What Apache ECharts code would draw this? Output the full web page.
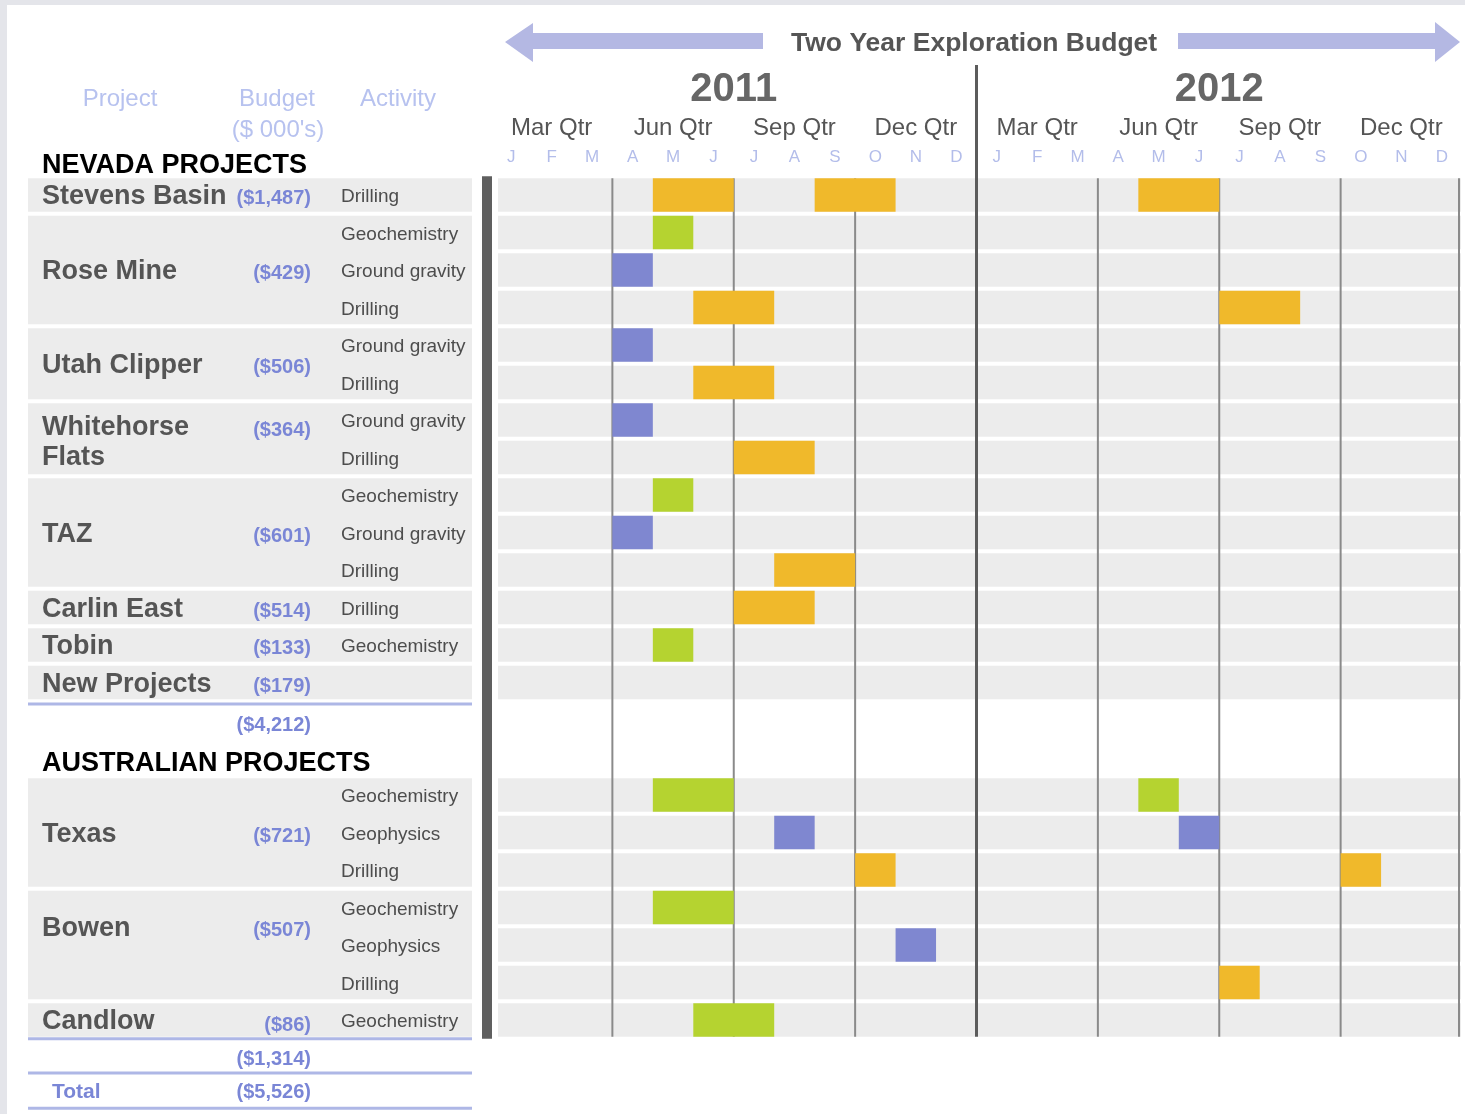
<!DOCTYPE html>
<html>
<head>
<meta charset="utf-8">
<title>Two Year Exploration Budget</title>
<script src="https://cdn.jsdelivr.net/npm/echarts@6/dist/echarts.min.js"></script>
<style>
  html, body { margin: 0; padding: 0; background: #fff; }
  #chart { width: 1465px; height: 1114px; }
</style>
</head>
<body>
<div id="chart"></div>
<script>
// top header axes
var months = ['J','F','M','A','M','J','J','A','S','O','N','D','J','F','M','A','M','J','J','A','S','O','N','D'];
var quarters = ['Mar Qtr','Jun Qtr','Sep Qtr','Dec Qtr','Mar Qtr','Jun Qtr','Sep Qtr','Dec Qtr'];
var years = ['2011','2012'];

// one activity per table row (row index = y value), '' = no activity
var activities = ['Drilling','Geochemistry','Ground gravity','Drilling','Ground gravity','Drilling',
  'Ground gravity','Drilling','Geochemistry','Ground gravity','Drilling','Drilling','Geochemistry','',
  '','','Geochemistry','Geophysics','Drilling','Geochemistry','Geophysics','Drilling','Geochemistry'];
// rows that get a grey band (14,15 are the subtotal / heading gap)
var bandRows = [0,1,2,3,4,5,6,7,8,9,10,11,12,13,16,17,18,19,20,21,22];

// projects
var projectNames = ['Stevens Basin','Rose Mine','Utah Clipper','Whitehorse\nFlats','TAZ','Carlin East','Tobin','New Projects','Texas','Bowen','Candlow'];
var projectBudgets = ['($1,487)','($429)','($506)','($364)','($601)','($514)','($133)','($179)','($721)','($507)','($86)'];
var projectFirstRow = [0,1,4,6,8,11,12,13,16,19,22];
var projectLastRow = [0,3,5,7,10,11,12,13,18,21,22];
var projectLabelRow = [0,2,4.5,6.55,9,11,12,13,17,19.5,22];
var projectBudgetRow = [0.05,2.05,4.55,6.22,9.05,11.05,12.05,13.05,17.05,19.55,22.08];

// scheduled activities: row, start month, end month (0 = start of Jan 2011)
var taskRow   = [0, 0, 0, 1, 2, 3, 3, 4, 5, 6, 7, 8, 9, 10, 11, 12, 16, 16, 17, 17, 18, 18, 19, 20, 21, 22];
var taskStart = [4, 8, 16, 4, 3, 5, 18, 3, 5, 3, 6, 4, 3, 7, 6, 4, 4, 16, 7, 17, 9, 21, 4, 10, 18, 5];
var taskEnd   = [6, 10, 18, 5, 4, 7, 20, 4, 7, 4, 8, 5, 4, 9, 8, 5, 6, 17, 8, 18, 10, 22, 6, 11, 19, 7];

// quarter divider positions (months)
var quarterLines = [3, 6, 9, 12, 15, 18, 21, 24];

// section headings and totals
var sectionNames = ['NEVADA PROJECTS', 'AUSTRALIAN PROJECTS'];
var sectionRows = [-0.85, 15.12];
var totalLabels = ['', '', 'Total'];
var totalValues = ['($4,212)', '($1,314)', '($5,526)'];
var totalRows = [14.1, 23.0, 23.87];
var ruleRows = [13.57, 22.5, 23.41, 24.35];

var FONT = '"Liberation Sans", Arial, Helvetica, sans-serif';
var BAND_H = 33.5;
var TXT_DY = 2; // text sits a little below the row centre
var activityColor = {
  'Drilling': '#f0b92b',
  'Geochemistry': '#b5d330',
  'Ground gravity': '#7f87d0',
  'Geophysics': '#7f87d0'
};
var budgetBlue = '#7a86d6';

var chart = echarts.init(document.getElementById('chart'));

function headAxis(data, offset, margin, size, weight, color) {
  return {
    type: 'category', data: data, position: 'top', offset: offset,
    axisLine: { show: false, onZero: false }, axisTick: { show: false }, splitLine: { show: false },
    axisLabel: { interval: 0, margin: margin, fontSize: size, fontWeight: weight, color: color, fontFamily: FONT }
  };
}

function rowY(api, r) {
  return api.coord([0, r])[1];
}

var option = {
  backgroundColor: '#ffffff',
  animation: false,
  textStyle: { fontFamily: FONT },
  title: {
    text: 'Two Year Exploration Budget', left: 786, top: 25,
    textStyle: { fontSize: 26.5, fontWeight: 'bold', color: '#555555', fontFamily: FONT }
  },
  grid: { left: 491, right: 3, top: 176.25, height: 862.5 },
  xAxis: [
    { type: 'value', min: 0, max: 24, show: false },
    headAxis(months, 0, 10, 17, 'normal', '#b3bdea'),
    headAxis(quarters, 36, 0, 24, 'normal', '#555555'),
    headAxis(years, 66, 0, 40, 'bold', '#666666')
  ],
  yAxis: {
    type: 'value', min: -0.5, max: 22.5, inverse: true, offset: 4,
    axisLine: { show: true, onZero: false, lineStyle: { color: '#5f5f5f', width: 10, cap: 'butt' } },
    axisTick: { show: false }, axisLabel: { show: false }, splitLine: { show: false }
  },
  graphic: [
    { type: 'rect', shape: { x: 0, y: 0, width: 1465, height: 5 }, style: { fill: '#e4e5ea' } },
    { type: 'rect', shape: { x: 0, y: 0, width: 7, height: 1114 }, style: { fill: '#e4e5ea' } },
    { type: 'polygon', shape: { points: [[505, 42], [533, 23], [533, 33], [763, 33], [763, 49], [533, 49], [533, 62]] }, style: { fill: '#b4b8e3' } },
    { type: 'polygon', shape: { points: [[1460, 42], [1435, 22], [1435, 33], [1178, 33], [1178, 49], [1435, 49], [1435, 62]] }, style: { fill: '#b4b8e3' } },
    { type: 'text', x: 120, y: 99, style: { text: 'Project', fill: '#b7c2ef', fontSize: 24, fontFamily: FONT, align: 'center', verticalAlign: 'middle' } },
    { type: 'text', x: 277, y: 99, style: { text: 'Budget', fill: '#b7c2ef', fontSize: 24, fontFamily: FONT, align: 'center', verticalAlign: 'middle' } },
    { type: 'text', x: 278, y: 130, style: { text: "($ 000's)", fill: '#b7c2ef', fontSize: 24, fontFamily: FONT, align: 'center', verticalAlign: 'middle' } },
    { type: 'text', x: 398, y: 99, style: { text: 'Activity', fill: '#b7c2ef', fontSize: 24, fontFamily: FONT, align: 'center', verticalAlign: 'middle' } }
  ],
  series: [
    {
      // project blocks in the table
      type: 'custom', name: 'projects', z: 1, silent: true,
      data: projectNames.map(function (n, i) { return [0, projectLabelRow[i]]; }),
      encode: { x: 0, y: 1 },
      renderItem: function (params, api) {
        var i = params.dataIndex;
        var top = rowY(api, projectFirstRow[i]) - BAND_H / 2;
        var bot = rowY(api, projectLastRow[i]) + BAND_H / 2;
        var yName = rowY(api, projectLabelRow[i]) + TXT_DY;
        var yBud = rowY(api, projectBudgetRow[i]) + TXT_DY;
        return {
          type: 'group',
          children: [
            { type: 'rect', shape: { x: 28, y: top, width: 444, height: bot - top }, style: { fill: '#ececec' } },
            { type: 'text', x: 42, y: yName, style: { text: projectNames[i], fill: '#555555', fontSize: 27, fontWeight: 'bold', fontFamily: FONT, lineHeight: 30, verticalAlign: 'middle' } },
            { type: 'text', x: 311, y: yBud, style: { text: projectBudgets[i], fill: budgetBlue, fontSize: 20, fontWeight: 'bold', fontFamily: FONT, align: 'right', verticalAlign: 'middle' } }
          ]
        };
      }
    },
    {
      // grey band per row in the timeline
      type: 'custom', name: 'rows', z: 1, silent: true,
      data: bandRows.map(function (r) { return [0, r]; }),
      encode: { x: 0, y: 1 },
      renderItem: function (params, api) {
        var r = api.value(1);
        var p = api.coord([0, r]);
        var x0 = p[0] + 7;
        var x1 = api.coord([24, r])[0] - 1;
        return { type: 'rect', shape: { x: x0, y: p[1] - BAND_H / 2, width: x1 - x0, height: BAND_H }, style: { fill: '#ececec' } };
      }
    },
    {
      // activity names in the table
      type: 'custom', name: 'activities', z: 2, silent: true,
      data: bandRows.map(function (r) { return [0, r]; }),
      encode: { x: 0, y: 1 },
      renderItem: function (params, api) {
        var r = api.value(1);
        return { type: 'text', x: 341, y: rowY(api, r) + TXT_DY, style: { text: activities[r], fill: '#4d4d4d', fontSize: 19, fontFamily: FONT, verticalAlign: 'middle' } };
      }
    },
    {
      // quarter dividers
      type: 'custom', name: 'quarters', z: 2, silent: true,
      data: quarterLines.map(function (q) { return [q, 0]; }),
      encode: { x: 0, y: 1 },
      renderItem: function (params, api) {
        var q = api.value(0);
        var x = api.coord([q, 0])[0];
        var top = rowY(api, 0) - BAND_H / 2;
        var bot = rowY(api, 22) + BAND_H / 2;
        var mid = q === 12;
        if (q === 24) x -= 3;
        return {
          type: 'line',
          shape: { x1: x, y1: mid ? 65 : top, x2: x, y2: bot },
          style: { stroke: mid ? '#5c5c5c' : '#8a8a8a', lineWidth: mid ? 3 : 2 }
        };
      }
    },
    {
      // activity bars
      type: 'custom', name: 'tasks', z: 3, silent: true,
      data: taskRow.map(function (r, i) { return [taskStart[i], taskEnd[i], r]; }),
      encode: { x: [0, 1], y: 2 },
      renderItem: function (params, api) {
        var r = api.value(2);
        var s = api.coord([api.value(0), r]);
        var e = api.coord([api.value(1), r]);
        return {
          type: 'rect',
          shape: { x: s[0], y: s[1] - BAND_H / 2, width: e[0] - s[0], height: BAND_H },
          style: { fill: activityColor[activities[r]] }
        };
      }
    },
    {
      // section headings
      type: 'custom', name: 'sections', z: 2, silent: true,
      data: sectionRows.map(function (r) { return [0, r]; }),
      encode: { x: 0, y: 1 },
      renderItem: function (params, api) {
        var y = rowY(api, api.value(1)) + TXT_DY;
        return { type: 'text', x: 42, y: y, style: { text: sectionNames[params.dataIndex], fill: '#000000', fontSize: 27, fontWeight: 'bold', fontFamily: FONT, verticalAlign: 'middle' } };
      }
    },
    {
      // subtotals and total
      type: 'custom', name: 'totals', z: 2, silent: true,
      data: totalRows.map(function (r) { return [0, r]; }),
      encode: { x: 0, y: 1 },
      renderItem: function (params, api) {
        var i = params.dataIndex;
        var y = rowY(api, api.value(1)) + TXT_DY;
        return {
          type: 'group',
          children: [
            { type: 'text', x: 52, y: y, style: { text: totalLabels[i], fill: budgetBlue, fontSize: 21, fontWeight: 'bold', fontFamily: FONT, verticalAlign: 'middle' } },
            { type: 'text', x: 311, y: y, style: { text: totalValues[i], fill: budgetBlue, fontSize: 20, fontWeight: 'bold', fontFamily: FONT, align: 'right', verticalAlign: 'middle' } }
          ]
        };
      }
    },
    {
      // blue rules under the totals
      type: 'custom', name: 'rules', z: 2, silent: true,
      data: ruleRows.map(function (r) { return [0, r]; }),
      encode: { x: 0, y: 1 },
      renderItem: function (params, api) {
        var y = rowY(api, api.value(1));
        return { type: 'line', shape: { x1: 28, y1: y, x2: 472, y2: y }, style: { stroke: '#aeb7e6', lineWidth: 3 } };
      }
    }
  ]
};

chart.setOption(option);
</script>
</body>
</html>
